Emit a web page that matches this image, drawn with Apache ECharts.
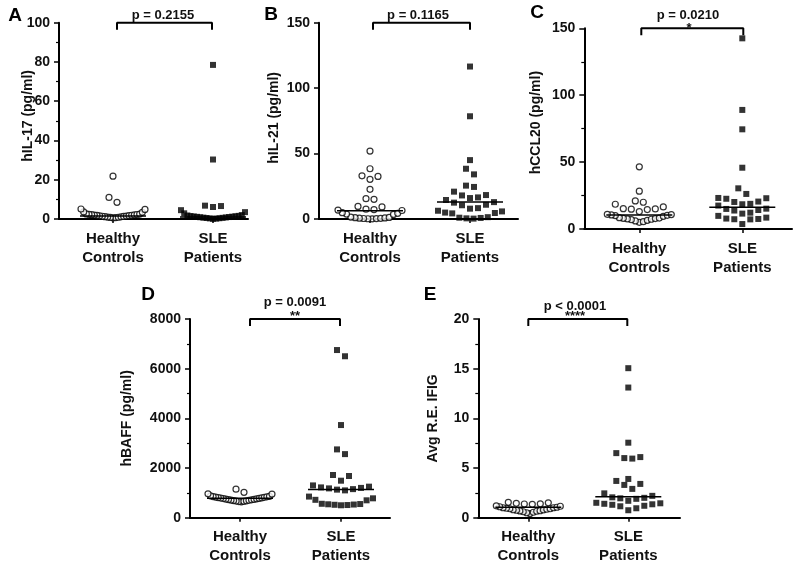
<!DOCTYPE html>
<html>
<head>
<meta charset="utf-8">
<title>Cytokines in SLE</title>
<script src="https://cdn.jsdelivr.net/npm/echarts@6/dist/echarts.min.js"></script>
<style>
  html, body { margin: 0; padding: 0; background: #fff; }
  #main { width: 800px; height: 566px; }
</style>
</head>
<body>
<div id="main"></div>
<script>
// group labels on the x axes
const groups = ["Healthy\nControls", "SLE\nPatients"];

// values, one array per group and panel
const healthyA = [21.8, 11, 8.5, 5.1, 4.9, 3.6, 3.4, 2.6, 2.5, 2.4, 2.3, 2.2, 2.1, 2.0, 1.9, 1.8, 1.7, 1.6, 1.5, 1.4, 1.3, 1.2, 1.1, 1.0, 0.9, 0.8, 0.7, 0.6];
const sleA = [78.5, 30.3, 6.8, 6.6, 6.1, 4.5, 3.5, 2.9, 2.0, 1.8, 1.6, 1.5, 1.4, 1.3, 1.2, 1.1, 1.0, 0.9, 0.8, 0.7, 0.6, 0.5, 0.4, 0.3, 0.2, 0.1];

const healthyB = [51.9, 38.4, 33.0, 32.5, 30.3, 22.7, 15.5, 15.0, 9.6, 9.2, 7.5, 7.2, 6.8, 6.5, 4.8, 4.3, 3.8, 3.5, 1.5, 1.2, 1.0, 0.8, 0.6, 0.5, 0.4, 0.3, 0.2, 0.1];
const sleB = [116.5, 78.5, 45, 38.4, 34.1, 25.5, 24.5, 20.9, 18.3, 18.0, 16.5, 16.0, 14.5, 12.9, 12.5, 10.9, 10.5, 8.3, 7.9, 6.3, 5.8, 4.9, 4.6, 4.3, 1.4, 1.0, 0.8, 0.5, 0.3];

const healthyC = [46.5, 28.3, 21, 20, 18.5, 16.5, 15.2, 15, 14.8, 14.5, 13, 11, 10.8, 10.5, 10.2, 10, 9.5, 8.5, 8.2, 8, 7.8, 7.5, 7.3, 7.0, 6.5, 6, 5.5, 5];
const sleC = [142.5, 89, 74.5, 45.8, 30.4, 26.2, 23.2, 23, 22.6, 20.5, 20.2, 18.8, 18.5, 17.5, 15.2, 15, 14.2, 13.8, 12.2, 11.5, 9.8, 8.5, 7.8, 7.5, 7.3, 7.2, 3.7];

const healthyD = [1150, 1020, 960, 950, 880, 860, 850, 840, 830, 820, 810, 800, 790, 780, 770, 760, 750, 740, 730, 720, 710, 700, 690, 680, 670, 660, 650, 640];
const sleD = [6750, 6500, 3730, 2750, 2560, 1720, 1680, 1490, 1300, 1250, 1220, 1200, 1180, 1150, 1130, 1100, 850, 780, 720, 700, 560, 550, 540, 530, 520, 510, 500];

const healthyE = [1.55, 1.5, 1.45, 1.4, 1.38, 1.35, 1.2, 1.15, 1.1, 1.05, 1.0, 1.0, 0.95, 0.9, 0.9, 0.85, 0.8, 0.78, 0.75, 0.7, 0.68, 0.65, 0.6, 0.55, 0.5, 0.42];
const sleE = [15.05, 13.1, 7.55, 6.5, 6.1, 6.0, 5.95, 3.9, 3.7, 3.4, 3.3, 2.9, 2.45, 2.2, 2.05, 2.0, 1.95, 1.9, 1.7, 1.5, 1.45, 1.4, 1.35, 1.3, 1.2, 1.15, 0.95, 0.75];

// medians (healthy, SLE) as drawn
const medianA = [1.5, 1.0];
const medianB = [6.3, 13];
const medianC = [10.5, 16.2];
const medianD = [780, 1140];
const medianE = [1.05, 2.1];

const yNames = ["hIL-17 (pg/ml)", "hIL-21 (pg/ml)", "hCCL20 (pg/ml)", "hBAFF (pg/ml)", "Avg R.E. IFIG"];
const yMax = [100, 150, 150, 8000, 20];
const yStep = [20, 50, 50, 2000, 5];
const pTexts = ["p = 0.2155", "p = 0.1165", "p = 0.0210", "p = 0.0091", "p < 0.0001"];
const stars = ["", "", "*", "**", "****"];
const letters = ["A", "B", "C", "D", "E"];

const healthy = [healthyA, healthyB, healthyC, healthyD, healthyE];
const sle = [sleA, sleB, sleC, sleD, sleE];
const medians = [medianA, medianB, medianC, medianD, medianE];

// layout of each panel, in pixels
const panels = [
  { left: 59, top: 22.7, width: 189, height: 196.3, c: [54, 154], br: [58, 153], gap: 24, namePad: [0, 0, 0, 10], minor: true, letter: [15, 16], p: [163, 15], star: [0, 0] },
  { left: 319, top: 22.7, width: 199, height: 196.3, c: [51, 151], br: [54, 151], gap: 38, namePad: [0, 0, 0, 6], minor: false, letter: [271, 15], p: [418, 15], star: [0, 0] },
  { left: 584.3, top: 28.3, width: 207.7, height: 200.7, c: [55, 158], br: [57, 159], gap: 41, namePad: [0, 0, 0, 12], minor: true, letter: [537, 13], p: [688, 15], star: [689, 28] },
  { left: 190, top: 319, width: 200, height: 198.7, c: [50, 151], br: [60, 150], gap: 56, namePad: [0, 0, 0, 0], minor: true, letter: [148, 295], p: [295, 302.7], star: [295, 316] },
  { left: 478.3, top: 319, width: 201.7, height: 198.7, c: [50, 150], br: [50, 149], gap: 38, namePad: [0, 0, 0, 0], minor: true, letter: [430, 295], p: [575, 306.7], star: [575, 316] }
];

const FONT = "'Liberation Sans', Arial, sans-serif";
const BIN_H = 9;    // px height of one swarm row
const GAP = 8;      // px between neighbours in a row
const MAX_W = 64;   // px widest a row may get

// prism-like column scatter: rows of nearby values spread sideways, lowest in the middle
function swarm(values, center, pxPerUnit) {
  const sorted = values.slice().sort((a, b) => a - b);
  const out = [];
  let i = 0;
  while (i < sorted.length) {
    let j = i;
    while (j < sorted.length && (sorted[j] - sorted[i]) * pxPerUnit < BIN_H) j++;
    const row = sorted.slice(i, j);
    const n = row.length;
    const sp = n > 1 ? Math.min(GAP, MAX_W / (n - 1)) : 0;
    const slots = [];
    for (let k = 0; k < n; k++) slots.push((k - (n - 1) / 2) * sp);
    slots.sort((a, b) => Math.abs(a) - Math.abs(b) || b - a);
    row.forEach((v, k) => out.push([center + slots[k], v]));
    i = j;
  }
  return out;
}

const grid = [], xAxis = [], yAxis = [], series = [], graphic = [];

panels.forEach((p, i) => {
  const ppu = p.height / yMax[i];
  grid.push({ left: p.left, top: p.top, width: p.width, height: p.height });
  xAxis.push({
    gridIndex: i, type: "value", min: 0, max: p.width,
    axisLine: { lineStyle: { color: "#000", width: 2 } },
    axisTick: { show: true, length: 4, customValues: p.c, lineStyle: { color: "#000", width: 1.5 } },
    axisLabel: {
      customValues: p.c, margin: 10, color: "#111", fontFamily: FONT, fontWeight: "bold",
      fontSize: 15, lineHeight: 19,
      formatter: v => (Math.abs(v - p.c[0]) < 1 ? groups[0] : groups[1])
    },
    splitLine: { show: false }
  });
  yAxis.push({
    gridIndex: i, type: "value", min: 0, max: yMax[i], interval: yStep[i],
    name: yNames[i], nameLocation: "middle", nameGap: p.gap, nameMoveOverlap: false,
    nameTextStyle: { color: "#111", fontFamily: FONT, fontWeight: "bold", fontSize: 14, padding: p.namePad },
    axisLine: { show: true, lineStyle: { color: "#000", width: 2 } },
    axisTick: { show: true, length: 5, lineStyle: { color: "#000", width: 1.5 } },
    minorTick: { show: p.minor, splitNumber: 2, length: 3, lineStyle: { color: "#000", width: 1.2 } },
    axisLabel: { margin: 9, color: "#111", fontFamily: FONT, fontWeight: "bold", fontSize: 14, formatter: v => String(v) },
    splitLine: { show: false }
  });

  series.push({
    type: "scatter", xAxisIndex: i, yAxisIndex: i, symbol: "circle", symbolSize: 6,
    itemStyle: { color: "#fff", borderColor: "#000", borderWidth: 1.2 },
    data: swarm(healthy[i], p.c[0], ppu)
  });
  series.push({
    type: "scatter", xAxisIndex: i, yAxisIndex: i, symbol: "rect", symbolSize: 6,
    itemStyle: { color: "#000" },
    data: swarm(sle[i], p.c[1], ppu)
  });
  medians[i].forEach((m, g) => {
    series.push({
      type: "line", xAxisIndex: i, yAxisIndex: i, symbol: "none", silent: true,
      lineStyle: { color: "#000", width: 1.5 },
      data: [[p.c[g] - 33, m], [p.c[g] + 33, m]]
    });
  });
  const drop = 7 / ppu;
  series.push({
    type: "line", xAxisIndex: i, yAxisIndex: i, symbol: "none", silent: true, clip: false,
    lineStyle: { color: "#000", width: 2 },
    data: [[p.br[0], yMax[i] - drop], [p.br[0], yMax[i]], [p.br[1], yMax[i]], [p.br[1], yMax[i] - drop]]
  });

  graphic.push({
    type: "text", x: p.letter[0], y: p.letter[1],
    style: { text: letters[i], fill: "#000", font: "bold 19px " + FONT, align: "center", verticalAlign: "middle", textAlign: "center", textVerticalAlign: "middle" }
  });
  graphic.push({
    type: "text", x: p.p[0], y: p.p[1],
    style: { text: pTexts[i], fill: "#111", font: "bold 13px " + FONT, align: "center", verticalAlign: "middle", textAlign: "center", textVerticalAlign: "middle" }
  });
  if (stars[i]) {
    graphic.push({
      type: "text", x: p.star[0], y: p.star[1],
      style: { text: stars[i], fill: "#111", font: "bold 13px " + FONT, align: "center", verticalAlign: "middle", textAlign: "center", textVerticalAlign: "middle" }
    });
  }
});

const myChart = echarts.init(document.getElementById("main"));
myChart.setOption({
  animation: false,
  backgroundColor: "#fff",
  grid, xAxis, yAxis, series, graphic
});
</script>
</body>
</html>
